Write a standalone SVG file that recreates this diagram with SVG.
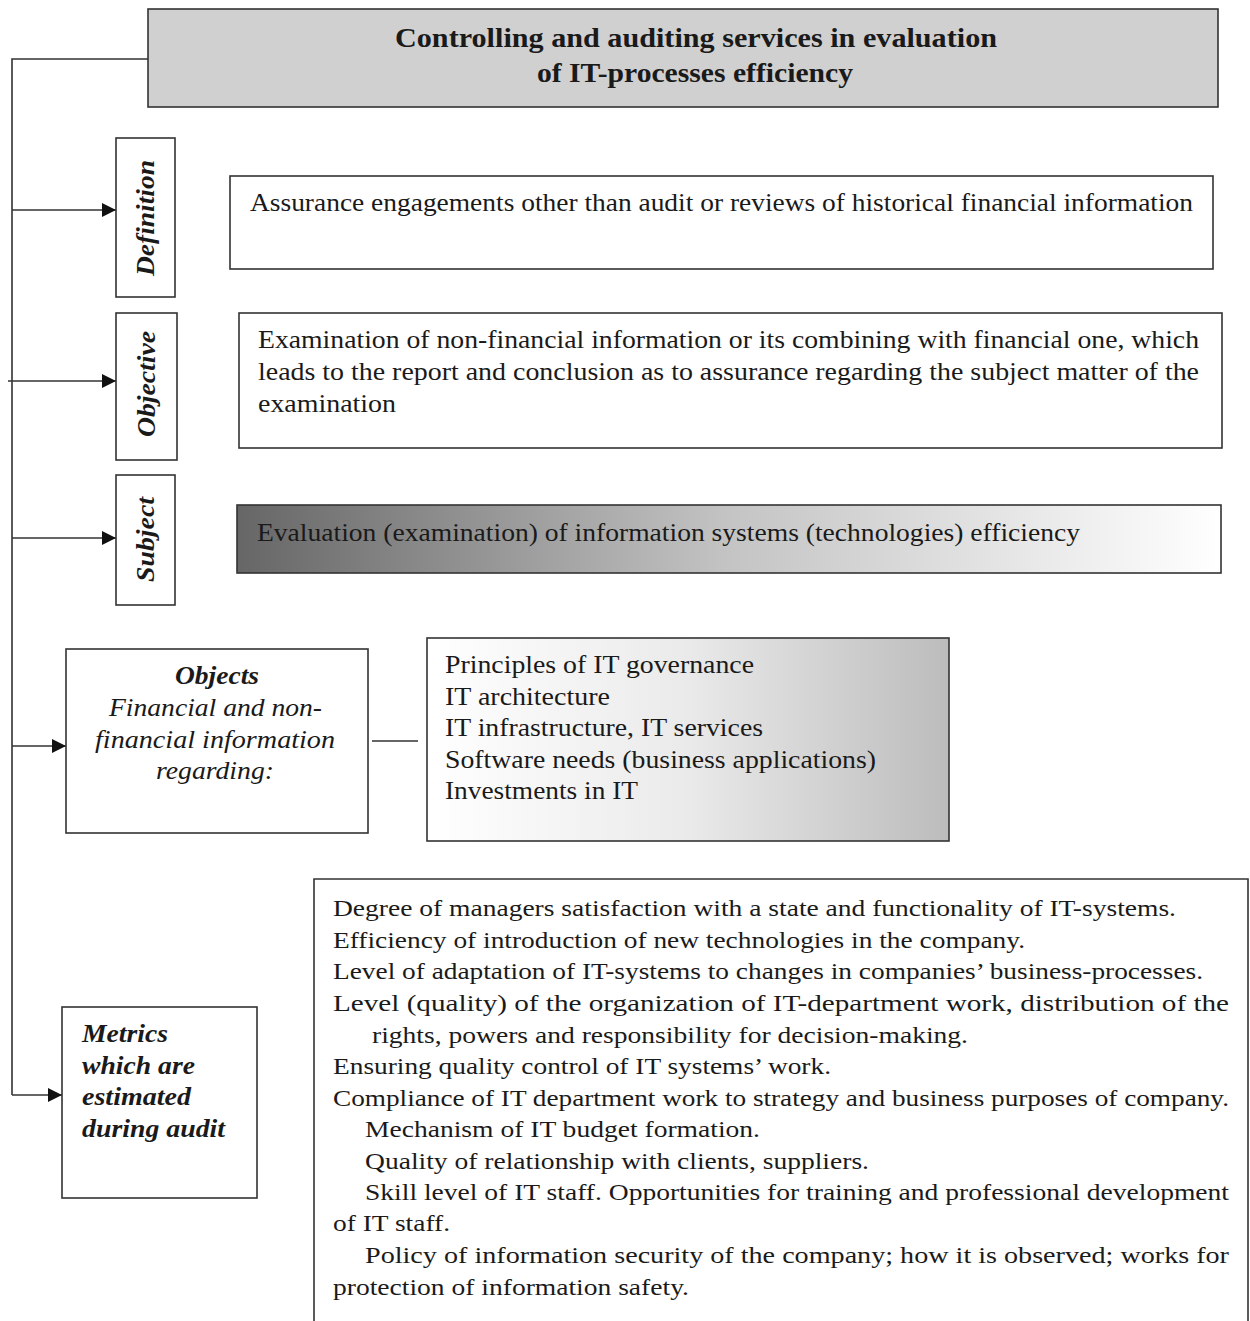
<svg xmlns="http://www.w3.org/2000/svg" width="1250" height="1321" viewBox="0 0 1250 1321">
<style>
.box{fill:#fff;stroke:#333;stroke-width:1.6}
.t{font-family:"Liberation Serif","Times New Roman",serif;font-size:25px;fill:#1a1a1a}
.bi{font-family:"Liberation Serif","Times New Roman",serif;font-size:25px;font-weight:bold;font-style:italic;fill:#1a1a1a}
.i{font-family:"Liberation Serif","Times New Roman",serif;font-size:25px;font-style:italic;fill:#1a1a1a}
.title{font-family:"Liberation Serif","Times New Roman",serif;font-size:28px;font-weight:bold;fill:#1a1a1a}
.s{font-size:24px}
.ln{fill:none;stroke:#333;stroke-width:1.6}
</style>
<defs>
<marker id="ah" viewBox="0 0 10 10" refX="10" refY="5" markerWidth="16" markerHeight="14" markerUnits="userSpaceOnUse" orient="auto">
<path d="M0,0 L10,5 L0,10 Z" fill="#111"/>
</marker>
<linearGradient id="gSub" x1="0" y1="0" x2="1" y2="0">
<stop offset="0" stop-color="#666"/>
<stop offset="0.5" stop-color="#c4c4c4"/>
<stop offset="1" stop-color="#fff"/>
</linearGradient>
<linearGradient id="gObj" x1="0" y1="0" x2="1" y2="0">
<stop offset="0" stop-color="#fff"/>
<stop offset="0.5" stop-color="#eaeaea"/>
<stop offset="1" stop-color="#bcbcbc"/>
</linearGradient>
</defs>

<g id="connectors">
<polyline class="ln" points="148,59 12,59 12,1095"/>
<line class="ln" x1="12" y1="210" x2="116" y2="210" marker-end="url(#ah)"/>
<line class="ln" x1="8" y1="381" x2="116" y2="381" marker-end="url(#ah)"/>
<line class="ln" x1="12" y1="538" x2="116" y2="538" marker-end="url(#ah)"/>
<line class="ln" x1="12" y1="746" x2="66" y2="746" marker-end="url(#ah)"/>
<line class="ln" x1="12" y1="1095" x2="62" y2="1095" marker-end="url(#ah)"/>
<line class="ln" x1="372" y1="741" x2="418" y2="741"/>
</g>

<g id="title">
<rect x="148" y="9" width="1070" height="98" fill="#d0d0d0" stroke="#333" stroke-width="1.6"/>
<text class="title" x="395" y="47" textLength="602" lengthAdjust="spacingAndGlyphs">Controlling and auditing services  in evaluation</text>
<text class="title" x="537" y="82" textLength="316" lengthAdjust="spacingAndGlyphs">of IT-processes  efficiency</text>
</g>

<g id="definition">
<rect class="box" x="116" y="138" width="59" height="159"/>
<text class="bi" transform="translate(154,276) rotate(-90)" textLength="116" lengthAdjust="spacingAndGlyphs">Definition</text>
</g>
<g id="definition-text">
<rect class="box" x="230" y="176" width="983" height="93"/>
<text class="t" x="250" y="211" textLength="943" lengthAdjust="spacingAndGlyphs">Assurance engagements other than audit or reviews of historical financial information</text>
</g>

<g id="objective">
<rect class="box" x="116" y="313" width="61" height="147"/>
<text class="bi" transform="translate(155,437) rotate(-90)" textLength="106" lengthAdjust="spacingAndGlyphs">Objective</text>
</g>
<g id="objective-text">
<rect class="box" x="239" y="313" width="983" height="135"/>
<text class="t" x="258" y="348" textLength="941" lengthAdjust="spacingAndGlyphs">Examination of non-financial information or its combining with financial one, which</text>
<text class="t" x="258" y="380" textLength="941" lengthAdjust="spacingAndGlyphs">leads to the report and conclusion as to assurance regarding the subject matter of the</text>
<text class="t" x="258" y="412" textLength="138" lengthAdjust="spacingAndGlyphs">examination</text>
</g>

<g id="subject">
<rect class="box" x="116" y="475" width="59" height="130"/>
<text class="bi" transform="translate(154,582) rotate(-90)" textLength="85" lengthAdjust="spacingAndGlyphs">Subject</text>
</g>
<g id="subject-text">
<rect x="237" y="505" width="984" height="68" fill="url(#gSub)" stroke="#333" stroke-width="1.6"/>
<text class="t" x="257" y="541" textLength="823" lengthAdjust="spacingAndGlyphs">Evaluation (examination) of information systems (technologies) efficiency</text>
</g>

<g id="objects">
<rect class="box" x="66" y="649" width="302" height="184"/>
<text class="bi" x="175" y="684" textLength="84" lengthAdjust="spacingAndGlyphs">Objects</text>
<text class="i" x="109" y="716" textLength="213" lengthAdjust="spacingAndGlyphs">Financial and non-</text>
<text class="i" x="95" y="748" textLength="240" lengthAdjust="spacingAndGlyphs">financial information</text>
<text class="i" x="156" y="779" textLength="118" lengthAdjust="spacingAndGlyphs">regarding:</text>
</g>
<g id="objects-list">
<rect x="427" y="638" width="522" height="203" fill="url(#gObj)" stroke="#333" stroke-width="1.6"/>
<text class="t" x="445" y="673" textLength="309" lengthAdjust="spacingAndGlyphs">Principles of IT governance</text>
<text class="t" x="445" y="705" textLength="165" lengthAdjust="spacingAndGlyphs">IT architecture</text>
<text class="t" x="445" y="736" textLength="318" lengthAdjust="spacingAndGlyphs">IT infrastructure, IT services</text>
<text class="t" x="445" y="768" textLength="431" lengthAdjust="spacingAndGlyphs">Software needs (business applications)</text>
<text class="t" x="445" y="799" textLength="193" lengthAdjust="spacingAndGlyphs">Investments in IT</text>
</g>

<g id="metrics">
<rect class="box" x="62" y="1007" width="195" height="191"/>
<text class="bi" x="82" y="1042" textLength="86" lengthAdjust="spacingAndGlyphs">Metrics</text>
<text class="bi" x="82" y="1074" textLength="113" lengthAdjust="spacingAndGlyphs">which are</text>
<text class="bi" x="82" y="1105" textLength="109" lengthAdjust="spacingAndGlyphs">estimated</text>
<text class="bi" x="82" y="1137" textLength="143" lengthAdjust="spacingAndGlyphs">during audit</text>
</g>

<g id="metrics-list">
<path class="ln" d="M314,1325 L314,879 L1248,879 L1248,1325"/>
<text class="t s" x="333" y="916" textLength="843" lengthAdjust="spacingAndGlyphs">Degree of managers satisfaction with a state and functionality of IT-systems.</text>
<text class="t s" x="333" y="948" textLength="692" lengthAdjust="spacingAndGlyphs">Efficiency of introduction of new technologies in the company.</text>
<text class="t s" x="333" y="979" textLength="870" lengthAdjust="spacingAndGlyphs">Level of adaptation of IT-systems to changes in companies’ business-processes.</text>
<text class="t s" x="333" y="1011" textLength="896" lengthAdjust="spacingAndGlyphs">Level (quality) of the organization of IT-department work, distribution of the</text>
<text class="t s" x="372" y="1043" textLength="596" lengthAdjust="spacingAndGlyphs">rights, powers and responsibility for decision-making.</text>
<text class="t s" x="333" y="1074" textLength="498" lengthAdjust="spacingAndGlyphs">Ensuring quality control of IT systems’ work.</text>
<text class="t s" x="333" y="1106" textLength="896" lengthAdjust="spacingAndGlyphs">Compliance of IT department work to strategy and business purposes of company.</text>
<text class="t s" x="365" y="1137" textLength="395" lengthAdjust="spacingAndGlyphs">Mechanism of IT budget formation.</text>
<text class="t s" x="365" y="1169" textLength="504" lengthAdjust="spacingAndGlyphs">Quality of relationship with clients, suppliers.</text>
<text class="t s" x="365" y="1200" textLength="864" lengthAdjust="spacingAndGlyphs">Skill level of IT staff. Opportunities for training and professional development</text>
<text class="t s" x="333" y="1231" textLength="117" lengthAdjust="spacingAndGlyphs">of IT staff.</text>
<text class="t s" x="365" y="1263" textLength="864" lengthAdjust="spacingAndGlyphs">Policy of information security of the company; how it is observed; works for</text>
<text class="t s" x="333" y="1295" textLength="356" lengthAdjust="spacingAndGlyphs">protection of information safety.</text>
</g>
</svg>
